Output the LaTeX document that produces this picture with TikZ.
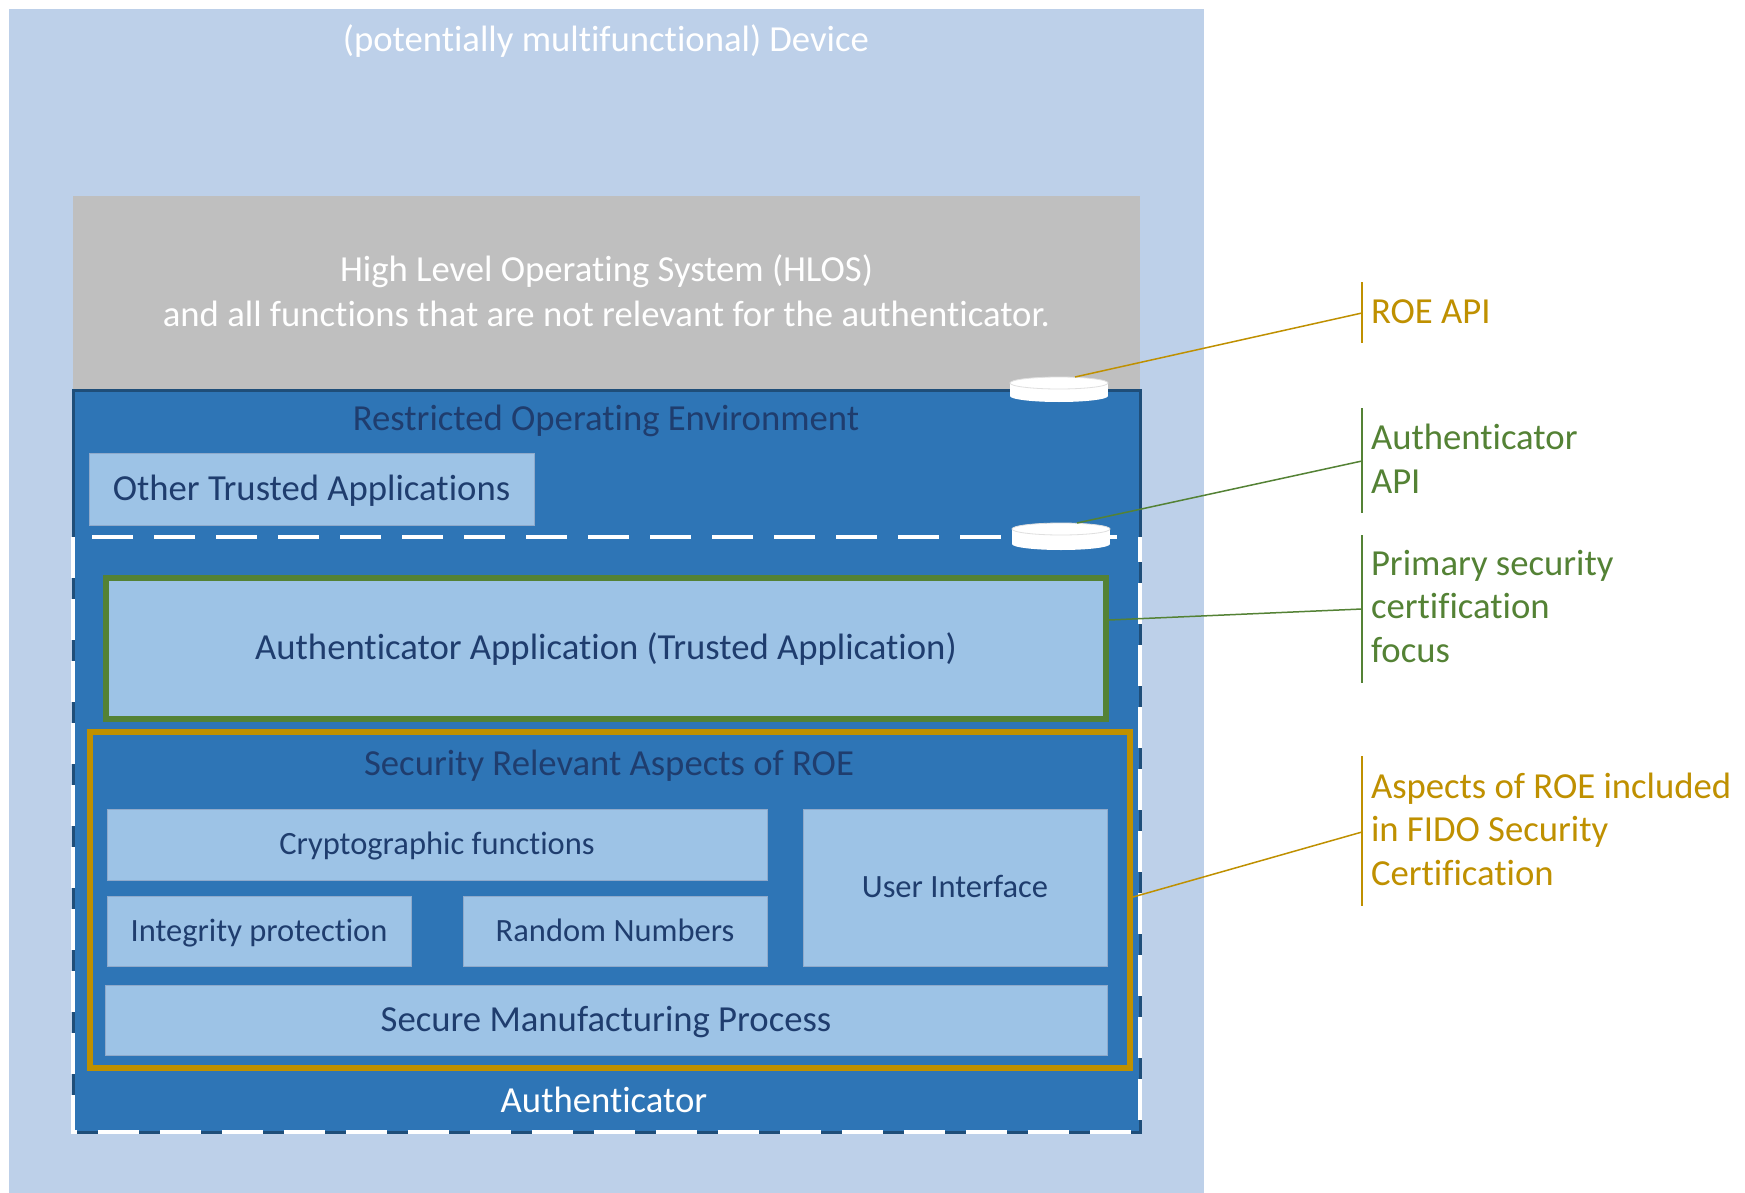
\documentclass[tikz,border=0pt]{standalone}
\usepackage{fontspec}
\setmainfont{Carlito}[Ligatures=NoCommon]
\definecolor{devbg}{HTML}{BDD0E9}
\definecolor{hlosgray}{HTML}{BFBFBF}
\definecolor{roeblue}{HTML}{2E75B6}
\definecolor{roeedge}{HTML}{1F4E79}
\definecolor{lightfill}{HTML}{9DC3E6}
\definecolor{boxedge}{HTML}{8FAACB}
\definecolor{navytext}{HTML}{1F3D6E}
\definecolor{fidogreen}{HTML}{548235}
\definecolor{fidogold}{HTML}{BF9000}
\newcommand{\fsbig}{\fontsize{36.7}{43.5}\selectfont}
\newcommand{\fssmall}{\fontsize{32.5}{38}\selectfont}
\begin{document}
\begin{tikzpicture}[x=1pt,y=-1pt,
  plain/.style={inner sep=0pt, outer sep=0pt},
  bigtext/.style={font=\fsbig, text height=23.6pt, text depth=0pt},
  smalltext/.style={font=\fssmall, text height=20.9pt, text depth=0pt},
  appbox/.style={plain, draw=boxedge, line width=0.8pt, fill=lightfill, text=navytext},
  leader/.style={line width=1.5pt},
  bar/.style={line width=2pt},
  authdash/.style={draw=white, line width=4.5pt, dash pattern=on 41pt off 21pt},
  labeltext/.style={plain, font=\fsbig, anchor=base west, align=left}
]
\useasboundingbox (0,0) rectangle (1745,1193);
\fill[white] (0,0) rectangle (1745,1193);

% device
\node[plain, fill=devbg, minimum width=1195, minimum height=1184] (device) at (606.5,601) {};
\node[plain, bigtext, text=white] (devtitle) at (606,40) {(potentially multifunctional) Device};

% HLOS
\node[plain, fill=hlosgray, minimum width=1067, minimum height=194] (hlos) at (606.5,293) {};
\node[plain, font=\fontsize{36.7}{45}\selectfont, text=white, align=center, anchor=base] (hlostext) at (606.5,326)
  {High Level Operating System (HLOS)\\and all functions that are not relevant for the authenticator.};

% ROE
\node[plain, fill=roeblue, draw=roeedge, line width=3pt, minimum width=1067, minimum height=742] (roe) at (606.5,761) {};
\node[plain, bigtext, text=navytext] (roetitle) at (606,418.5) {Restricted Operating Environment};
\node[appbox, bigtext, minimum width=445, minimum height=72] (other) at (311.5,489) {Other Trusted Applications};

% Authenticator dashed boundary
\draw[authdash] (73,537) -- (73,1132) -- (1140,1132) -- (1140,537);
\draw[authdash] (92,537) -- (1117,537);
\node[plain, bigtext, text=white] (authlabel) at (604,1100.7) {Authenticator};

% API cylinders
\fill[white] (1010,383) rectangle (1108,396);
\fill[white] (1059,396) ellipse [x radius=49, y radius=6];
\filldraw[fill=white, draw=gray!25, line width=0.8pt] (1059,383) ellipse [x radius=49, y radius=6];
\fill[white] (1012,529) rectangle (1110,544);
\fill[white] (1061,544) ellipse [x radius=49, y radius=6];
\filldraw[fill=white, draw=gray!25, line width=0.8pt] (1061,529) ellipse [x radius=49, y radius=6];
\coordinate (api1) at (1075,377);
\coordinate (api2) at (1077,523);

% Authenticator application
\node[plain, fill=lightfill, draw=fidogreen, line width=6pt, text=navytext, bigtext,
      minimum width=1000, minimum height=141] (authapp) at (606,648)
      {Authenticator Application (Trusted Application)};

% Security relevant aspects
\node[plain, draw=fidogold, line width=6pt, minimum width=1040, minimum height=336] (secrel) at (610,900) {};
\node[plain, bigtext, text=navytext] (sectitle) at (609,763.5) {Security Relevant Aspects of ROE};
\node[appbox, smalltext, minimum width=660, minimum height=71] (crypto) at (437,844.5) {Cryptographic functions};
\node[appbox, smalltext, minimum width=304, minimum height=70] (integrity) at (259,931) {Integrity protection};
\node[appbox, smalltext, minimum width=304, minimum height=70] (random) at (615,931) {Random Numbers};
\node[appbox, smalltext, minimum width=304, minimum height=157] (ui) at (955,887.5) {User Interface};
\node[appbox, bigtext, minimum width=1002, minimum height=70] (mfg) at (606,1020) {Secure Manufacturing Process};

% right-hand labels
\coordinate (b1t) at (1362,282); \coordinate (b1b) at (1362,343); \coordinate (b1m) at (1362,313);
\coordinate (b2t) at (1362,408); \coordinate (b2b) at (1362,513); \coordinate (b2m) at (1362,461);
\coordinate (b3t) at (1362,535); \coordinate (b3b) at (1362,683); \coordinate (b3m) at (1362,609);
\coordinate (b4t) at (1362,756); \coordinate (b4b) at (1362,906); \coordinate (b4m) at (1362,832);
\coordinate (pf) at (1109,620);
\coordinate (sr) at (1133,897);

\draw[bar, draw=fidogold] (b1t) -- (b1b);
\draw[bar, draw=fidogreen] (b2t) -- (b2b);
\draw[bar, draw=fidogreen] (b3t) -- (b3b);
\draw[bar, draw=fidogold] (b4t) -- (b4b);
\draw[leader, draw=fidogold] (api1) -- (b1m);
\draw[leader, draw=fidogreen] (api2) -- (b2m);
\draw[leader, draw=fidogreen] (pf) -- (b3m);
\draw[leader, draw=fidogold] (sr) -- (b4m);

\node[labeltext, text=fidogold] (roeapi) at (1371,323) {ROE API};
\node[labeltext, text=fidogreen] (authapi) at (1371,493) {Authenticator\\API};
\node[labeltext, text=fidogreen] (primary) at (1371,662) {Primary security\\certification\\focus};
\node[labeltext, text=fidogold] (aspects) at (1371,885) {Aspects of ROE included\\in FIDO Security\\Certification};
\end{tikzpicture}
\end{document}
